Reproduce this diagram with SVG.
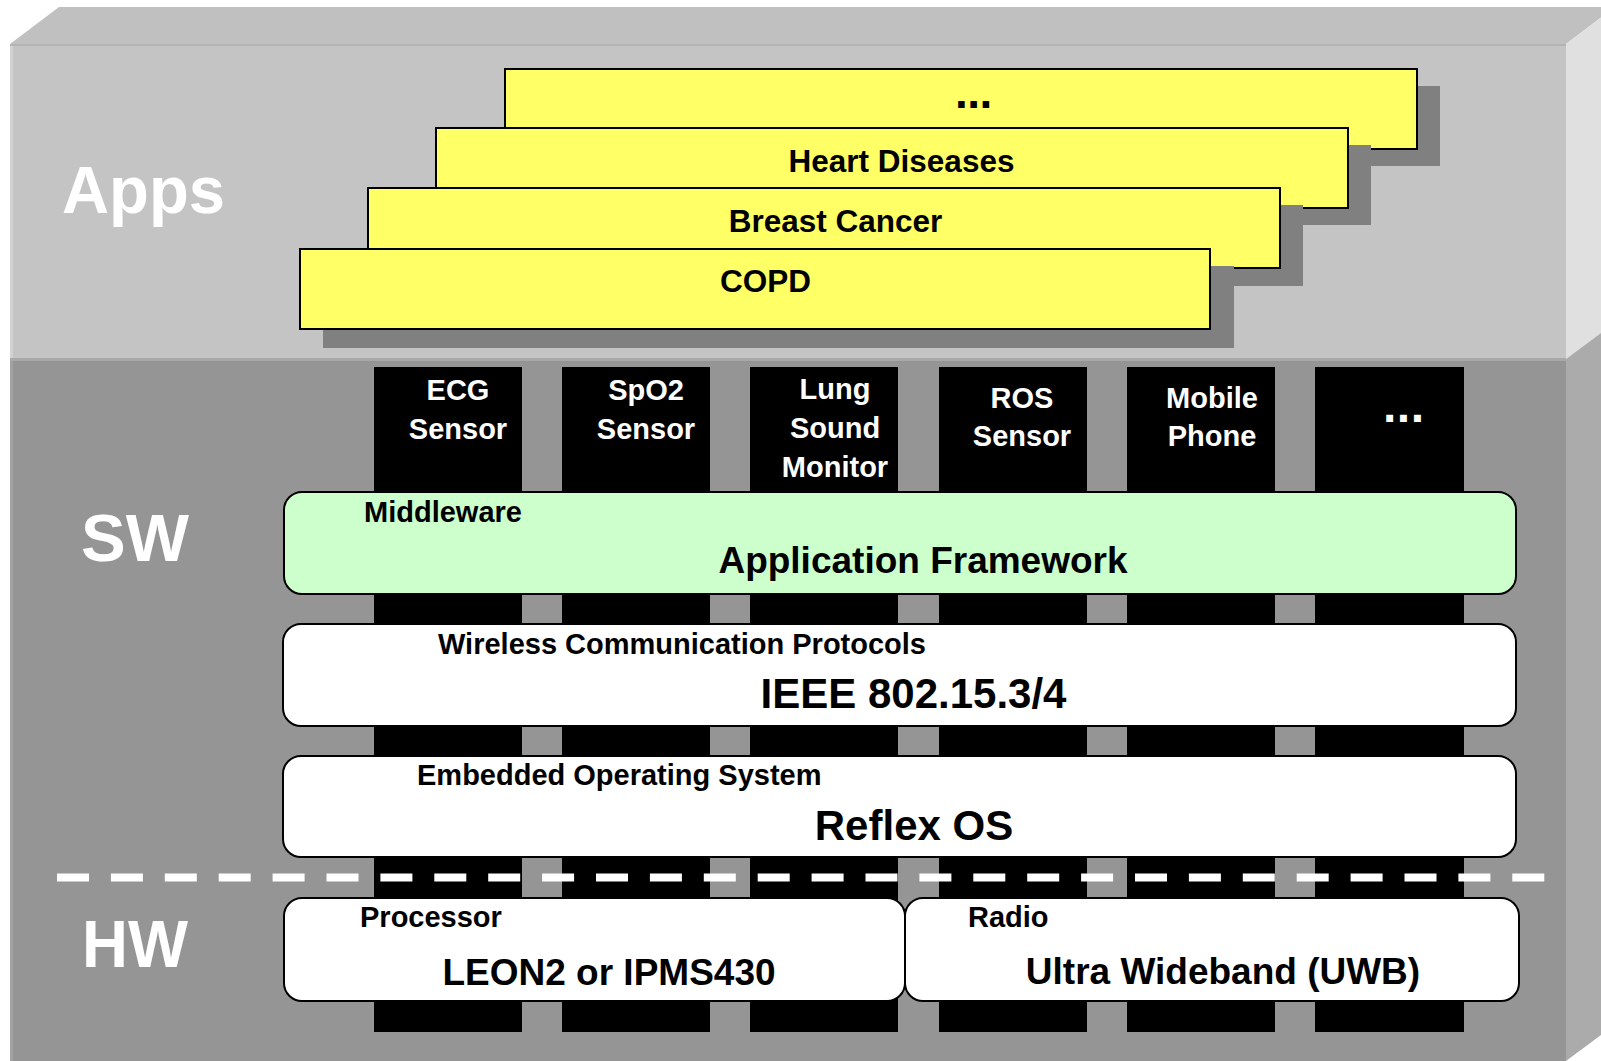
<svg xmlns="http://www.w3.org/2000/svg" width="1601" height="1061" viewBox="0 0 1601 1061">
  <style>
    text { font-family: "Liberation Sans", Arial, Helvetica, sans-serif; font-weight: bold; }
    .layer-title { fill: #ffffff; font-size: 67px; }
    .app-box { fill: #ffff66; stroke: #000000; stroke-width: 2; }
    .app-shadow { fill: #808080; }
    .app-label { fill: #000000; font-size: 31.5px; text-anchor: middle; }
    .column { fill: #000000; }
    .device-label { fill: #ffffff; font-size: 29px; text-anchor: middle; }
    .layer-box { fill: #ffffff; stroke: #000000; stroke-width: 2; }
    .layer-caption { fill: #000000; font-size: 29px; }
    .layer-name { fill: #000000; font-size: 37px; text-anchor: middle; }
    .layer-name-lg { fill: #000000; font-size: 42px; text-anchor: middle; }
  </style>

  <rect x="0" y="0" width="1601" height="1061" fill="#ffffff"/>

  <!-- block body: top face, front faces, right side faces -->
  <g id="block">
    <polygon points="10,44 59,7 1601,7 1601,17.6 1566,44" fill="#c0c0c0"/>
    <rect x="10" y="44" width="1556" height="315" fill="#c4c4c4"/>
    <rect x="10" y="44" width="1556" height="2" fill="#b4b4b4"/>
    <polygon points="1566,44 1601,17.6 1601,333 1566,359" fill="#e0e0e0"/>
    <rect x="10" y="359" width="1556" height="702" fill="#959595"/>
    <rect x="10" y="358" width="1556" height="3" fill="#a9a9a9"/>
    <polygon points="1566,359 1601,333 1601,1035 1566,1061" fill="#ababab"/>
    <rect x="10" y="46" width="3" height="312" fill="#d2d2d2"/>
    <rect x="10" y="361" width="3" height="700" fill="#a2a2a2"/>
  </g>

  <!-- layer titles -->
  <g id="title-apps"><text class="layer-title" x="62" y="213" textLength="163" lengthAdjust="spacingAndGlyphs">Apps</text></g>
  <g id="title-sw"><text class="layer-title" x="81" y="561">SW</text></g>
  <g id="title-hw"><text class="layer-title" x="82" y="967" textLength="106" lengthAdjust="spacingAndGlyphs">HW</text></g>

  <!-- stacked application cards, back to front -->
  <g id="app-more">
    <rect class="app-shadow" x="528" y="86" width="912" height="80"/>
    <rect class="app-box" x="505" y="69" width="912" height="80"/>
    <text fill="#000000" x="955" y="108" font-size="46" letter-spacing="-0.5">...</text>
  </g>
  <g id="app-heart">
    <rect class="app-shadow" x="459" y="145" width="912" height="80"/>
    <rect class="app-box" x="436" y="128" width="912" height="80"/>
    <text class="app-label" x="901.5" y="172">Heart Diseases</text>
  </g>
  <g id="app-breast">
    <rect class="app-shadow" x="391" y="205" width="912" height="81"/>
    <rect class="app-box" x="368" y="188" width="912" height="80"/>
    <text class="app-label" x="835.5" y="232">Breast Cancer</text>
  </g>
  <g id="app-copd">
    <rect class="app-shadow" x="323" y="266" width="911" height="82"/>
    <rect class="app-box" x="300" y="249" width="910" height="80"/>
    <text class="app-label" x="765.5" y="292">COPD</text>
  </g>

  <!-- vertical device columns running through all layers -->
  <g id="dev-ecg">
    <rect class="column" x="374" y="367" width="148" height="665"/>
    <text class="device-label" x="458" y="400">ECG</text>
    <text class="device-label" x="458" y="439">Sensor</text>
  </g>
  <g id="dev-spo2">
    <rect class="column" x="562" y="367" width="148" height="665"/>
    <text class="device-label" x="646" y="400">SpO2</text>
    <text class="device-label" x="646" y="439">Sensor</text>
  </g>
  <g id="dev-lung">
    <rect class="column" x="750" y="367" width="148" height="665"/>
    <text class="device-label" x="835" y="399">Lung</text>
    <text class="device-label" x="835" y="438">Sound</text>
    <text class="device-label" x="835" y="477">Monitor</text>
  </g>
  <g id="dev-ros">
    <rect class="column" x="939" y="367" width="148" height="665"/>
    <text class="device-label" x="1022" y="408">ROS</text>
    <text class="device-label" x="1022" y="446">Sensor</text>
  </g>
  <g id="dev-mobile">
    <rect class="column" x="1127" y="367" width="148" height="665"/>
    <text class="device-label" x="1212" y="408">Mobile</text>
    <text class="device-label" x="1212" y="446">Phone</text>
  </g>
  <g id="dev-more">
    <rect class="column" x="1315" y="367" width="149" height="665"/>
    <text fill="#ffffff" x="1383" y="422" font-size="48" letter-spacing="0.5">...</text>
  </g>

  <!-- software layers -->
  <g id="middleware">
    <rect class="layer-box" x="284" y="492" width="1232" height="102" rx="18" ry="18" style="fill:#ccffcc"/>
    <text class="layer-caption" x="364" y="522">Middleware</text>
    <text class="layer-name" x="923" y="573">Application Framework</text>
  </g>
  <g id="wireless">
    <rect class="layer-box" x="283" y="624" width="1233" height="102" rx="18" ry="18"/>
    <text class="layer-caption" x="438" y="654">Wireless Communication Protocols</text>
    <text class="layer-name-lg" x="913.5" y="708">IEEE 802.15.3/4</text>
  </g>
  <g id="embedded-os">
    <rect class="layer-box" x="283" y="756" width="1233" height="101" rx="18" ry="18"/>
    <text class="layer-caption" x="417" y="785">Embedded Operating System</text>
    <text class="layer-name-lg" x="914" y="840">Reflex OS</text>
  </g>

  <!-- software / hardware boundary -->
  <g id="sw-hw-boundary">
    <line x1="57" y1="877.5" x2="1546" y2="877.5" stroke="#ffffff" stroke-width="8" stroke-dasharray="32 21.9"/>
  </g>

  <!-- hardware layers -->
  <g id="processor">
    <rect class="layer-box" x="284" y="898" width="621" height="103" rx="18" ry="18"/>
    <text class="layer-caption" x="360" y="927">Processor</text>
    <text class="layer-name" x="609" y="985">LEON2 or IPMS430</text>
  </g>
  <g id="radio">
    <rect class="layer-box" x="905" y="898" width="614" height="103" rx="18" ry="18"/>
    <text class="layer-caption" x="968" y="927">Radio</text>
    <text class="layer-name" x="1223" y="984">Ultra Wideband (UWB)</text>
  </g>

  <g id="connectors"/>
</svg>
